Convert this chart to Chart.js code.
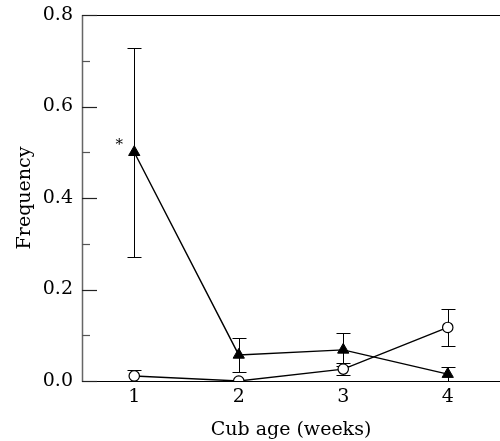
<!DOCTYPE html>
<html>
<head>
<meta charset="utf-8">
<script src="https://cdn.jsdelivr.net/npm/chart.js@4.4.1/dist/chart.umd.min.js"></script>
<style>
  html, body { margin: 0; padding: 0; background: #fff; }
  #wrap { width: 500px; height: 441px; }
</style>
</head>
<body>
<div id="wrap"><canvas id="c" width="500" height="441"></canvas></div>
<script>
// Data
const weeks = [1, 2, 3, 4];
const triangleMean = [0.500, 0.057, 0.068, 0.015];
const triangleErr  = [0.228, 0.038, 0.036, 0.016];
const circleMean   = [0.011, 0.000, 0.026, 0.117];
const circleErr    = [0.014, 0.000, 0.013, 0.040];
const xTicks = [1, 2, 3, 4];
const yLabeledTicks = [0.0, 0.2, 0.4, 0.6, 0.8];
const significance = ["*", "", "", ""]; // marks on triangle series

const FONT = "'DejaVu Serif', serif";

function toPoints(xs, ys) { return xs.map((x, i) => ({ x: x, y: ys[i] })); }

const errorBars = {
  id: 'errorBars',
  beforeDatasetsDraw(chart) {
    const { ctx, scales: { x, y } } = chart;
    const sets = [[triangleMean, triangleErr], [circleMean, circleErr]];
    ctx.save();
    ctx.strokeStyle = '#000';
    ctx.lineWidth = 1;
    sets.forEach(([m, e]) => {
      weeks.forEach((w, i) => {
        if (!e[i]) return;
        const px = Math.round(x.getPixelForValue(w)) + 0.5;
        const yt = Math.round(y.getPixelForValue(m[i] + e[i])) + 0.5;
        const yb = Math.round(y.getPixelForValue(Math.max(m[i] - e[i], 0))) + 0.5;
        ctx.beginPath();
        ctx.moveTo(px, yt); ctx.lineTo(px, yb);
        ctx.moveTo(px - 7, yt); ctx.lineTo(px + 7, yt);
        if (m[i] - e[i] > 0) { ctx.moveTo(px - 7, yb); ctx.lineTo(px + 7, yb); }
        ctx.stroke();
      });
    });
    ctx.restore();
  }
};

const frame = {
  id: 'frame',
  beforeDatasetsDraw(chart) {
    const { ctx, chartArea: a, scales: { y } } = chart;
    ctx.save();
    ctx.strokeStyle = '#000';
    ctx.lineWidth = 1.2;
    ctx.beginPath();
    ctx.moveTo(a.left, a.top + 0.5); ctx.lineTo(a.right, a.top + 0.5);
    ctx.moveTo(a.left, a.bottom + 0.5); ctx.lineTo(a.right, a.bottom + 0.5);
    ctx.stroke();
    ctx.strokeStyle = '#666';
    ctx.lineWidth = 1.5;
    ctx.beginPath();
    ctx.moveTo(a.left + 0.5, a.top); ctx.lineTo(a.left + 0.5, a.bottom + 1);
    ctx.stroke();
    y.ticks.forEach(t => {
      const py = Math.round(y.getPixelForValue(t.value)) + 0.5;
      const major = yLabeledTicks.some(v => Math.abs(v - t.value) < 1e-6);
      ctx.strokeStyle = major ? '#222' : '#555';
      ctx.lineWidth = 1.2;
      ctx.beginPath();
      ctx.moveTo(a.left, py); ctx.lineTo(a.left + (major ? 15 : 8), py);
      ctx.stroke();
    });
    ctx.restore();
  },
  afterDatasetsDraw(chart) {
    const { ctx, scales: { x, y } } = chart;
    ctx.save();
    ctx.fillStyle = '#000';
    ctx.font = "15px " + FONT;
    ctx.textAlign = 'center';
    ctx.textBaseline = 'middle';
    significance.forEach((s, i) => {
      if (!s) return;
      const px = x.getPixelForValue(weeks[i]);
      const py = y.getPixelForValue(triangleMean[i]);
      ctx.fillText(s, px - 15, py - 7);
    });
    ctx.restore();
  }
};

new Chart(document.getElementById('c'), {
  type: 'line',
  data: {
    datasets: [
      {
        data: toPoints(weeks, triangleMean),
        borderColor: '#000', borderWidth: 1.4,
        pointStyle: 'triangle', pointRadius: 6.5,
        pointBackgroundColor: '#000', pointBorderColor: '#000', pointBorderWidth: 1
      },
      {
        data: toPoints(weeks, circleMean),
        borderColor: '#000', borderWidth: 1.4,
        pointStyle: 'circle', pointRadius: 5.2,
        pointBackgroundColor: '#fff', pointBorderColor: '#000', pointBorderWidth: 1.2
      }
    ]
  },
  options: {
    responsive: false,
    animation: false,
    layout: { autoPadding: false, padding: { top: 15, right: 0, left: 0, bottom: 0 } },
    plugins: { legend: { display: false }, tooltip: { enabled: false } },
    scales: {
      x: {
        type: 'linear', min: 0.5, max: 4.5,
        afterBuildTicks: s => { s.ticks = xTicks.map(v => ({ value: v })); },
        afterFit: s => { s.height = 60; s.paddingLeft = 0; s.paddingRight = 0; },
        grid: { display: false, drawTicks: false },
        border: { display: false },
        ticks: { color: '#000', font: { family: FONT, size: 19 }, padding: 5,
                 maxRotation: 0, callback: v => String(v) },
        title: { display: true, text: 'Cub age (weeks)', color: '#000',
                 font: { family: FONT, size: 19 }, padding: { top: 4, bottom: 0 } }
      },
      y: {
        min: 0, max: 0.8,
        ticks: { stepSize: 0.1, color: '#000', font: { family: FONT, size: 19 }, padding: 9,
                 callback: v => yLabeledTicks.some(t => Math.abs(t - v) < 1e-6) ? v.toFixed(1) : '' },
        afterFit: s => { s.width = 82; s.paddingTop = 0; s.paddingBottom = 0; },
        grid: { display: false, drawTicks: false },
        border: { display: false },
        title: { display: true, text: 'Frequency', color: '#000',
                 font: { family: FONT, size: 19 }, padding: { top: 14, bottom: 0 } }
      }
    }
  },
  plugins: [errorBars, frame]
});
</script>
</body>
</html>
